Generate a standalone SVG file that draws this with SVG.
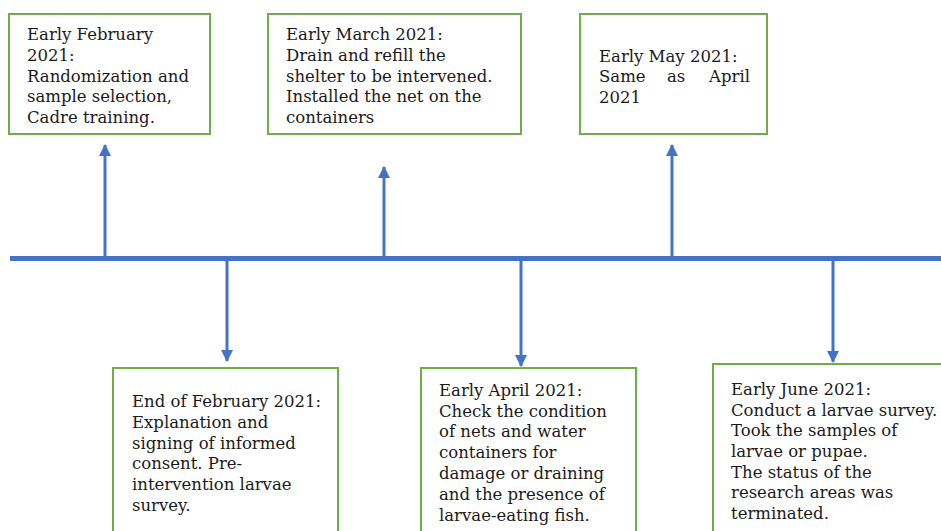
<svg xmlns="http://www.w3.org/2000/svg" width="941" height="531" viewBox="0 0 941 531">
<style>
.box{fill:#fff;stroke:#70AD47;stroke-width:2}
.t{font-family:"DejaVu Serif","Liberation Serif",serif;font-size:16.5px;fill:#1a1a1a}
.ln{stroke:#4472C4;stroke-width:3;fill:none}
</style>
<defs>
<marker id="ah" markerWidth="13" markerHeight="12" refX="11" refY="6" orient="auto" markerUnits="userSpaceOnUse">
<path d="M0,0 L12,6 L0,12 Z" fill="#4472C4"/>
</marker>
</defs>
<rect width="941" height="531" fill="#fff"/>
<g id="connectors">
<line x1="10" y1="258.5" x2="941" y2="258.5" stroke="#4472C4" stroke-width="5"/>
<line class="ln" x1="105" y1="257" x2="105" y2="145" marker-end="url(#ah)"/>
<line class="ln" x1="384" y1="257" x2="384" y2="167" marker-end="url(#ah)"/>
<line class="ln" x1="672" y1="257" x2="672" y2="145" marker-end="url(#ah)"/>
<line class="ln" x1="227" y1="260" x2="227" y2="361" marker-end="url(#ah)"/>
<line class="ln" x1="521" y1="260" x2="521" y2="366" marker-end="url(#ah)"/>
<line class="ln" x1="833" y1="260" x2="833" y2="362" marker-end="url(#ah)"/>
</g>
<g id="n1">
<rect class="box" x="9" y="14" width="201" height="120"/>
<text class="t"><tspan x="27" y="40">Early February</tspan><tspan x="27" y="61">2021:</tspan><tspan x="27" y="82">Randomization and</tspan><tspan x="27" y="102">sample selection,</tspan><tspan x="27" y="123">Cadre training.</tspan></text>
</g>
<g id="n2">
<rect class="box" x="268" y="14" width="253" height="120"/>
<text class="t"><tspan x="286" y="40">Early March 2021:</tspan><tspan x="286" y="61">Drain and refill the</tspan><tspan x="286" y="82">shelter to be intervened.</tspan><tspan x="286" y="102">Installed the net on the</tspan><tspan x="286" y="123">containers</tspan></text>
</g>
<g id="n3">
<rect class="box" x="580" y="14" width="187" height="120"/>
<text class="t"><tspan x="599" y="62">Early May 2021:</tspan><tspan x="599" y="82">Same</tspan><tspan x="667" y="82">as</tspan><tspan x="750" y="82" text-anchor="end">April</tspan><tspan x="599" y="103">2021</tspan></text>
</g>
<g id="n4">
<rect class="box" x="113" y="368" width="225" height="175"/>
<text class="t"><tspan x="132" y="407">End of February 2021:</tspan><tspan x="132" y="428">Explanation and</tspan><tspan x="132" y="449">signing of informed</tspan><tspan x="132" y="469">consent. Pre-</tspan><tspan x="132" y="490">intervention larvae</tspan><tspan x="132" y="511">survey.</tspan></text>
</g>
<g id="n5">
<rect class="box" x="421" y="368" width="215" height="175"/>
<text class="t"><tspan x="439" y="396">Early April 2021:</tspan><tspan x="439" y="417">Check the condition</tspan><tspan x="439" y="437">of nets and water</tspan><tspan x="439" y="458">containers for</tspan><tspan x="439" y="479">damage or draining</tspan><tspan x="439" y="500">and the presence of</tspan><tspan x="439" y="521">larvae-eating fish.</tspan></text>
</g>
<g id="n6">
<rect class="box" x="713" y="364" width="240" height="180"/>
<text class="t"><tspan x="731" y="395">Early June 2021:</tspan><tspan x="731" y="416">Conduct a larvae survey.</tspan><tspan x="731" y="436">Took the samples of</tspan><tspan x="731" y="457">larvae or pupae.</tspan><tspan x="731" y="478">The status of the</tspan><tspan x="731" y="498">research areas was</tspan><tspan x="731" y="519">terminated.</tspan></text>
</g>
</svg>
